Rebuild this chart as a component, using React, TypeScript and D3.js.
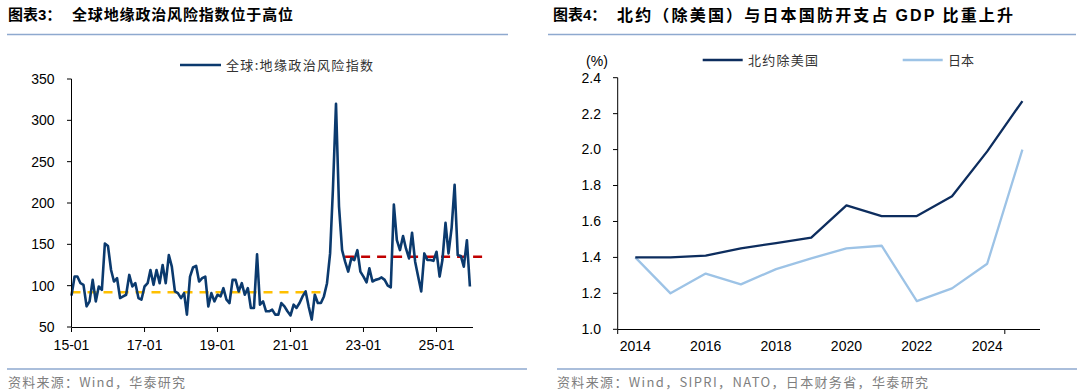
import * as d3 from "d3";

// ---- left chart: global geopolitical risk index, monthly 2015-01 .. 2025-12
const gprValues = [
  88, 111, 111, 103, 101, 75, 81, 107, 81, 99, 95, 151,
  148, 119, 105, 109, 85, 87, 89, 113, 99, 103, 85, 83,
  99, 103, 119, 101, 119, 103, 125, 103, 137, 123, 93, 91,
  85, 91, 65, 111, 122, 124, 105, 109, 111, 75, 91, 81,
  89, 87, 97, 83, 79, 107, 107, 93, 103, 89, 97, 73,
  73, 138, 77, 81, 69, 69, 71, 65, 65, 79, 75, 69,
  64, 77, 73, 79, 87, 93, 75, 59, 89, 79, 79, 87,
  103, 139, 216, 320, 196, 143, 129, 117, 133, 131, 143, 117,
  111, 104, 121, 105, 107, 108, 110, 107, 100, 98, 198, 155,
  143, 160, 145, 133, 164, 129, 111, 93, 139, 131, 131, 130,
  141, 111, 131, 176, 139, 170, 222, 137, 136, 123, 155, 99,
];
const gprDates = gprValues.map((_, i) => new Date(2015, i, 1));
const gprTicks = ["15-01", "17-01", "19-01", "21-01", "23-01", "25-01"];
const avgBefore = 92;
const avgAfter = 135;

// ---- right chart: defence spending share of GDP
const years = ["2014", "2015", "2016", "2017", "2018", "2019", "2020", "2021", "2022", "2023", "2024", "2025"];
const natoExUS = [1.4, 1.4, 1.41, 1.45, 1.48, 1.51, 1.69, 1.63, 1.63, 1.74, 1.99, 2.27];
const japan = [1.4, 1.2, 1.31, 1.25, 1.335, 1.395, 1.45, 1.465, 1.157, 1.228, 1.365, 2.0];
const yTicksR = [1.0, 1.2, 1.4, 1.6, 1.8, 2.0, 2.2, 2.4];

const NUM = "'Liberation Sans', Arial, sans-serif";
const CJK = "'Noto Sans CJK SC', 'Liberation Sans', sans-serif";

const LeftChart = () => {
  const x = d3.scaleTime()
    .domain([new Date(2015, 0, 1), new Date(2026, 0, 1)])
    .range([71.5, 473]);
  const y = d3.scaleLinear().domain([50, 350]).range([327, 79]);
  const line = d3.line<number>()
    .x((_, i) => x(gprDates[i]))
    .y(d => y(d));
  const tickDates = gprTicks.map((_, i) => new Date(2015 + i * 2, 0, 1));

  return (
    <g>
      {/* avg lines */}
      <line x1={x(new Date(2015, 0, 1))} x2={x(new Date(2022, 0, 1))} y1={y(avgBefore)} y2={y(avgBefore)}
        stroke="#FFC000" strokeWidth={2.5} strokeDasharray="9,7" />
      <line x1={x(new Date(2022, 6, 1))} x2={x(new Date(2026, 3, 15))} y1={y(avgAfter)} y2={y(avgAfter)}
        stroke="#C00000" strokeWidth={2.5} strokeDasharray="9,7" />
      <path d={line(gprValues) || ""} fill="none" stroke="#0B3A6E" strokeWidth={2.6} strokeLinejoin="round" />

      {/* axes */}
      <line x1={71.5} x2={71.5} y1={79} y2={327} stroke="#000" strokeWidth={1} />
      <line x1={71.5} x2={473} y1={327.5} y2={327.5} stroke="#000" strokeWidth={1} />
      {y.ticks(6).map(t => (
        <g key={t}>
          <line x1={67} x2={71.5} y1={y(t)} y2={y(t)} stroke="#000" />
          <text x={54.5} y={y(t)} dy="0.35em" textAnchor="end" fontFamily={NUM} fontSize={14} fill="#000">{t}</text>
        </g>
      ))}
      {tickDates.map((d, i) => (
        <g key={i}>
          <line x1={x(d)} x2={x(d)} y1={327.5} y2={332} stroke="#000" />
          <text x={x(d)} y={350} textAnchor="middle" fontFamily={NUM} fontSize={14} fill="#000">{gprTicks[i]}</text>
        </g>
      ))}

      {/* legend */}
      <line x1={180} x2={221} y1={65} y2={65} stroke="#0B3A6E" strokeWidth={2.6} />
      <text x={226} y={65} dy="0.35em" fontFamily={CJK} fontSize={13} fill="#333" textLength={147} lengthAdjust="spacing">全球:地缘政治风险指数</text>
    </g>
  );
};

const RightChart = () => {
  const x = d3.scaleBand().domain(years).range([617.7, 1040]);
  const y = d3.scaleLinear().domain([1.0, 2.4]).range([329.3, 77.7]);
  const line = d3.line<number>()
    .x((_, i) => (x(years[i]) || 0) + x.bandwidth() / 2)
    .y(d => y(d));

  return (
    <g>
      <path d={line(japan) || ""} fill="none" stroke="#9DC3E6" strokeWidth={2.3} strokeLinejoin="round" />
      <path d={line(natoExUS) || ""} fill="none" stroke="#0D2D5E" strokeWidth={2.3} strokeLinejoin="round" />

      <line x1={617.7} x2={617.7} y1={77.7} y2={329.3} stroke="#000" />
      <line x1={617.7} x2={1040} y1={329.5} y2={329.5} stroke="#000" />
      {yTicksR.map(t => (
        <g key={t}>
          <line x1={613} x2={617.7} y1={y(t)} y2={y(t)} stroke="#000" />
          <text x={601} y={y(t)} dy="0.35em" textAnchor="end" fontFamily={NUM} fontSize={14} fill="#000">{t.toFixed(1)}</text>
        </g>
      ))}
      {[0, 11].map(k => {
        const px = 617.7 + k * x.step();
        return <line key={k} x1={px} x2={px} y1={329.5} y2={334} stroke="#000" />;
      })}
      {years.filter((_, i) => i % 2 === 0).map(yr => (
        <text key={yr} x={(x(yr) || 0) + x.bandwidth() / 2} y={351} textAnchor="middle" fontFamily={NUM} fontSize={14} fill="#000">{yr}</text>
      ))}
      <text x={597} y={61} dy="0.35em" textAnchor="middle" fontFamily={NUM} fontSize={14} fill="#000">(%)</text>

      {/* legend */}
      <line x1={702.7} x2={742.7} y1={60} y2={60} stroke="#0D2D5E" strokeWidth={2.3} />
      <text x={748} y={60} dy="0.35em" fontFamily={CJK} fontSize={13} fill="#333" textLength={70} lengthAdjust="spacing">北约除美国</text>
      <line x1={902.7} x2={942.7} y1={60} y2={60} stroke="#9DC3E6" strokeWidth={2.3} />
      <text x={948} y={60} dy="0.35em" fontFamily={CJK} fontSize={13} fill="#333" textLength={26} lengthAdjust="spacing">日本</text>
    </g>
  );
};

export default function App() {
  return (
    <svg width={1080} height={391} style={{ position: "absolute", left: 0, top: 0, background: "#fff" }}>
      {/* titles */}
      <text x={8} y={15} dy="0.35em" fontFamily={CJK} fontSize={15} fontWeight="bold" fill="#000">图表<tspan fontFamily={NUM}>3</tspan>：</text>
      <text x={72} y={15} dy="0.35em" fontFamily={CJK} fontSize={15} fontWeight="bold" fill="#000" textLength={221} lengthAdjust="spacing">全球地缘政治风险指数位于高位</text>
      <line x1={7} x2={508} y1={34.5} y2={34.5} stroke="#8EA9CF" strokeWidth={1.5} />

      <text x={553} y={15} dy="0.35em" fontFamily={CJK} fontSize={15} fontWeight="bold" fill="#000">图表<tspan fontFamily={NUM}>4</tspan>：</text>
      <text x={617} y={15} dy="0.35em" fontFamily={CJK} fontSize={16} fontWeight="bold" fill="#000" textLength={396} lengthAdjust="spacing">北约（除美国）与日本国防开支占 <tspan fontFamily={NUM}>GDP</tspan> 比重上升</text>
      <line x1={548} x2={1076} y1={34.5} y2={34.5} stroke="#8EA9CF" strokeWidth={1.5} />

      <LeftChart />
      <RightChart />

      {/* footers */}
      <line x1={7} x2={527} y1={369} y2={369} stroke="#8EA9CF" strokeWidth={1.5} />
      <text x={8} y={382} dy="0.35em" fontFamily={CJK} fontSize={13} fill="#7F7F7F" textLength={177} lengthAdjust="spacing">资料来源：Wind，华泰研究</text>
      <line x1={557} x2={1077} y1={369} y2={369} stroke="#8EA9CF" strokeWidth={1.5} />
      <text x={557} y={382} dy="0.35em" fontFamily={CJK} fontSize={13} fill="#7F7F7F" textLength={371} lengthAdjust="spacing">资料来源：Wind，SIPRI，NATO，日本财务省，华泰研究</text>
    </svg>
  );
}
